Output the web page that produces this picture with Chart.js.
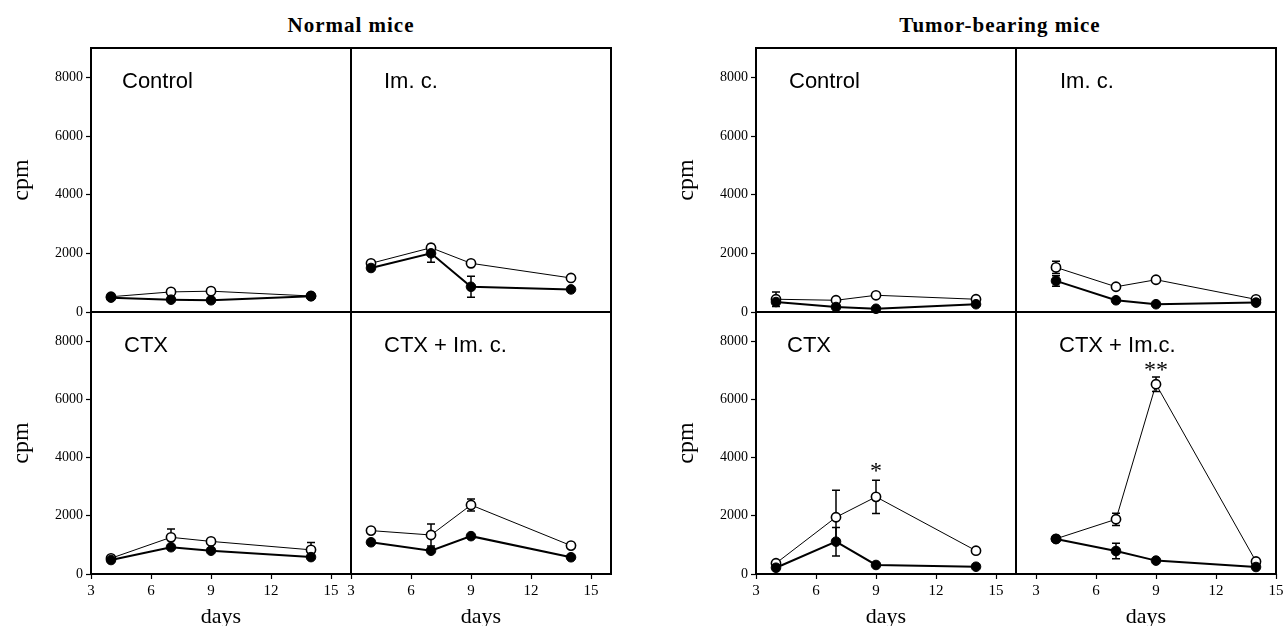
<!DOCTYPE html>
<html>
<head>
<meta charset="utf-8">
<script src="https://cdn.jsdelivr.net/npm/chart.js@4.4.1/dist/chart.umd.min.js"></script>
<style>
  html, body { margin: 0; padding: 0; background: #fff; }
  body { width: 1288px; height: 626px; position: relative; overflow: hidden; }
  canvas { position: absolute; }
  .titulo { position: absolute; top: 13px; line-height: 21px; font: bold 21px 'Liberation Serif', 'Times New Roman', serif; letter-spacing: 1px; white-space: nowrap; transform: translateX(-50%); color: #000; }
  .etiqueta { position: absolute; line-height: 22px; font-size: 22px; font-family: 'Liberation Sans', Arial, sans-serif; white-space: nowrap; color: #000; }
</style>
</head>
<body>
<div class="titulo" style="left:351px">Normal mice</div>
<div class="titulo" style="left:1000px">Tumor-bearing mice</div>

<script>
// ejes
const days = [4, 7, 9, 14];
const xTicks = [3, 6, 9, 12, 15];
const yTicks = [0, 2000, 4000, 6000, 8000];

// Normal mice - Control
const normCtrlOpen = [520, 685, 710, 545];
const normCtrlOpenErr = [0, 0, 0, 0];
const normCtrlFilled = [490, 420, 400, 540];
const normCtrlFilledErr = [0, 0, 0, 0];
// Normal mice - Im. c.
const normImcOpen = [1660, 2190, 1660, 1160];
const normImcOpenErr = [0, 0, 0, 0];
const normImcFilled = [1500, 2000, 860, 770];
const normImcFilledErr = [0, 300, 360, 0];
// Normal mice - CTX
const normCtxOpen = [540, 1260, 1120, 830];
const normCtxOpenErr = [0, 290, 0, 250];
const normCtxFilled = [480, 920, 800, 580];
const normCtxFilledErr = [0, 0, 0, 0];
// Normal mice - CTX + Im. c.
const normCtxImcOpen = [1490, 1340, 2370, 975];
const normCtxImcOpenErr = [0, 380, 210, 0];
const normCtxImcFilled = [1090, 800, 1300, 575];
const normCtxImcFilledErr = [0, 0, 0, 0];

// Tumor-bearing mice - Control
const tumCtrlOpen = [435, 400, 570, 435];
const tumCtrlOpenErr = [250, 0, 0, 0];
const tumCtrlFilled = [340, 170, 110, 265];
const tumCtrlFilledErr = [0, 0, 0, 0];
// Tumor-bearing mice - Im. c.
const tumImcOpen = [1520, 860, 1100, 430];
const tumImcOpenErr = [210, 0, 0, 0];
const tumImcFilled = [1060, 400, 265, 320];
const tumImcFilledErr = [180, 0, 0, 0];
// Tumor-bearing mice - CTX
const tumCtxOpen = [370, 1950, 2650, 800];
const tumCtxOpenErr = [0, 930, 570, 0];
const tumCtxFilled = [215, 1110, 310, 250];
const tumCtxFilledErr = [0, 490, 0, 0];
// Tumor-bearing mice - CTX + Im.c.
const tumCtxImcOpen = [1210, 1880, 6520, 430];
const tumCtxImcOpenErr = [0, 210, 250, 0];
const tumCtxImcFilled = [1200, 790, 460, 240];
const tumCtxImcFilledErr = [0, 270, 0, 0];

// asteriscos de significancia
const tumCtxStars = [{ x: 9, y: 3700, text: '*' }];
const tumCtxImcStars = [{ x: 9, y: 7150, text: '**' }];

// geometria
const GROUP_LEFT = [91, 756];
const PANEL_W = 260;
const PAD = 14;
const Y_AXIS_W = 84;
const X_AXIS_H = 56;

const paneles = [
  { g: 0, row: 0, col: 0, label: 'Control', dx: 31, xMin: 3, xMax: 16, open: normCtrlOpen, openErr: normCtrlOpenErr, filled: normCtrlFilled, filledErr: normCtrlFilledErr, stars: [] },
  { g: 0, row: 0, col: 1, label: 'Im. c.', dx: 33, xMin: 3, xMax: 16, open: normImcOpen, openErr: normImcOpenErr, filled: normImcFilled, filledErr: normImcFilledErr, stars: [] },
  { g: 0, row: 1, col: 0, label: 'CTX', dx: 33, xMin: 3, xMax: 16, open: normCtxOpen, openErr: normCtxOpenErr, filled: normCtxFilled, filledErr: normCtxFilledErr, stars: [] },
  { g: 0, row: 1, col: 1, label: 'CTX + Im. c.', dx: 33, xMin: 3, xMax: 16, open: normCtxImcOpen, openErr: normCtxImcOpenErr, filled: normCtxImcFilled, filledErr: normCtxImcFilledErr, stars: [] },
  { g: 1, row: 0, col: 0, label: 'Control', dx: 33, xMin: 3, xMax: 16, open: tumCtrlOpen, openErr: tumCtrlOpenErr, filled: tumCtrlFilled, filledErr: tumCtrlFilledErr, stars: [] },
  { g: 1, row: 0, col: 1, label: 'Im. c.', dx: 44, xMin: 2, xMax: 15, open: tumImcOpen, openErr: tumImcOpenErr, filled: tumImcFilled, filledErr: tumImcFilledErr, stars: [] },
  { g: 1, row: 1, col: 0, label: 'CTX', dx: 31, xMin: 3, xMax: 16, open: tumCtxOpen, openErr: tumCtxOpenErr, filled: tumCtxFilled, filledErr: tumCtxFilledErr, stars: tumCtxStars },
  { g: 1, row: 1, col: 1, label: 'CTX + Im.c.', dx: 43, xMin: 2, xMax: 15, open: tumCtxImcOpen, openErr: tumCtxImcOpenErr, filled: tumCtxImcFilled, filledErr: tumCtxImcFilledErr, stars: tumCtxImcStars }
];

// marco del panel
const marco = {
  id: 'marco',
  beforeDatasetsDraw(chart) {
    const a = chart.chartArea;
    const c = chart.ctx;
    const l = Math.round(a.left), t = Math.round(a.top);
    const r = Math.round(a.right), b = Math.round(a.bottom);
    c.save();
    c.strokeStyle = '#000';
    c.lineWidth = 2;
    c.strokeRect(l, t, r - l, b - t);
    c.restore();
  }
};

// barras de error
const barrasError = {
  id: 'barrasError',
  beforeDatasetsDraw(chart) {
    const c = chart.ctx;
    const y = chart.scales.y;
    c.save();
    c.strokeStyle = '#000';
    c.lineWidth = 1.5;
    chart.data.datasets.forEach((ds, di) => {
      const meta = chart.getDatasetMeta(di);
      ds.errores.forEach((e, i) => {
        if (!e) return;
        const px = meta.data[i].x;
        const v = ds.data[i].y;
        const top = y.getPixelForValue(v + e);
        const bot = y.getPixelForValue(v - e);
        c.beginPath();
        c.moveTo(px, top); c.lineTo(px, bot);
        c.moveTo(px - 4, top); c.lineTo(px + 4, top);
        c.moveTo(px - 4, bot); c.lineTo(px + 4, bot);
        c.stroke();
      });
    });
    c.restore();
  }
};

function pluginEstrellas(stars) {
  return {
    id: 'estrellas',
    afterDatasetsDraw(chart) {
      const c = chart.ctx;
      c.save();
      c.fillStyle = '#000';
      c.font = '24px "Liberation Serif", serif';
      c.textAlign = 'center';
      c.textBaseline = 'middle';
      stars.forEach(s => {
        c.fillText(s.text, chart.scales.x.getPixelForValue(s.x), chart.scales.y.getPixelForValue(s.y) + 5);
      });
      c.restore();
    }
  };
}

function puntos(vals) {
  return days.map((d, i) => ({ x: d, y: vals[i] }));
}

paneles.forEach(p => {
  const showY = p.col === 0;
  const showX = p.row === 1;
  const areaLeft = GROUP_LEFT[p.g] + p.col * PANEL_W;
  const areaTop = p.row === 0 ? 48 : 312;
  const areaH = p.row === 0 ? 264 : 262;
  const w = PANEL_W + 2 * PAD + (showY ? Y_AXIS_W : 0);
  const h = areaH + 2 * PAD + (showX ? X_AXIS_H : 0);

  const canvas = document.createElement('canvas');
  canvas.width = w;
  canvas.height = h;
  canvas.style.left = (areaLeft - PAD - (showY ? Y_AXIS_W : 0)) + 'px';
  canvas.style.top = (areaTop - PAD) + 'px';
  document.body.appendChild(canvas);

  const lab = document.createElement('div');
  lab.className = 'etiqueta';
  lab.textContent = p.label;
  lab.style.left = (areaLeft + p.dx) + 'px';
  lab.style.top = (areaTop + 22) + 'px';
  document.body.appendChild(lab);

  new Chart(canvas, {
    type: 'line',
    data: {
      datasets: [
        {
          data: puntos(p.filled),
          errores: p.filledErr,
          borderColor: '#000',
          borderWidth: 2,
          pointRadius: 4.8,
          pointBackgroundColor: '#000',
          pointBorderColor: '#000',
          pointBorderWidth: 1,
          tension: 0,
          clip: 10
        },
        {
          data: puntos(p.open),
          errores: p.openErr,
          borderColor: '#000',
          borderWidth: 1,
          pointRadius: 4.6,
          pointBackgroundColor: '#fff',
          pointBorderColor: '#000',
          pointBorderWidth: 1.6,
          tension: 0,
          clip: 10
        }
      ]
    },
    options: {
      responsive: false,
      devicePixelRatio: 1,
      animation: false,
      layout: { padding: PAD },
      plugins: { legend: { display: false }, tooltip: { enabled: false } },
      scales: {
        x: {
          type: 'linear',
          min: p.xMin,
          max: p.xMax,
          display: showX,
          afterBuildTicks: s => { s.ticks = xTicks.map(v => ({ value: v })); },
          afterFit: s => { s.height = showX ? X_AXIS_H : 0; },
          grid: { drawOnChartArea: false, tickLength: 5, tickColor: '#000', tickWidth: 1.2 },
          border: { display: false },
          ticks: { color: '#000', font: { family: 'Liberation Serif', size: 15 }, padding: 3, maxRotation: 0, autoSkip: false, callback: v => String(v) },
          title: { display: true, text: 'days', color: '#000', font: { family: 'Liberation Serif', size: 22 }, padding: 0 }
        },
        y: {
          min: 0,
          max: 9000,
          display: showY,
          afterBuildTicks: s => { s.ticks = yTicks.map(v => ({ value: v })); },
          afterFit: s => { s.width = showY ? Y_AXIS_W : 0; },
          grid: { drawOnChartArea: false, tickLength: 5, tickColor: '#000', tickWidth: 1.2 },
          border: { display: false },
          ticks: { color: '#000', font: { family: 'Liberation Serif', size: 14 }, padding: 3, callback: v => String(v) },
          title: { display: true, text: 'cpm', color: '#000', font: { family: 'Liberation Serif', size: 24 }, padding: 0 }
        }
      }
    },
    plugins: [marco, barrasError, pluginEstrellas(p.stars)]
  });
});
</script>
</body>
</html>
